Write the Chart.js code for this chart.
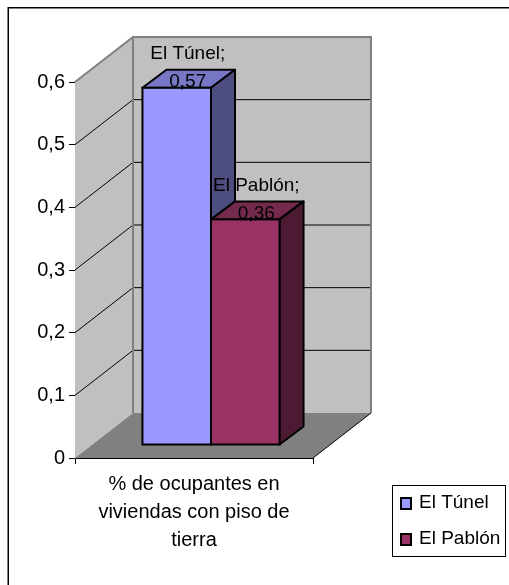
<!DOCTYPE html>
<html>
<head>
<meta charset="utf-8">
<style>
  html, body { margin: 0; padding: 0; background: #fff; }
  #wrap { width: 509px; height: 585px; }
</style>
<script src="https://cdn.jsdelivr.net/npm/chart.js@4/dist/chart.umd.min.js"></script>
</head>
<body>
<div id="wrap"><canvas id="chart"></canvas></div>
<script>
const categories = [['% de ocupantes en', 'viviendas con piso de', 'tierra']];
const seriesNames = ['El Túnel', 'El Pablón'];
const tunelValues = [0.57];
const pablonValues = [0.36];
const yTickLabels = ['0', '0,1', '0,2', '0,3', '0,4', '0,5', '0,6'];

const FAMILY = '"Liberation Sans", Arial, sans-serif';
const LABEL_FONT = '19px ' + FAMILY;

// depth of the fake 3D box and of the bars, in px
const WALL_DX = 58, WALL_DY = 45;
const BAR_DX = 24, BAR_DY = 18;
const BAR_SHIFT_X = 17, BAR_SHIFT_Y = 13;

const colors = [
  { front: '#9999ff', top: '#7777c6', side: '#4d4d80' },
  { front: '#993366', top: '#732a4d', side: '#4d1a33' }
];

// front face of a bar in canvas px, moved inside the box
function barBox(chart, i) {
  const b = chart.getDatasetMeta(i).data[0];
  const half = b.width / 2;
  return {
    l: b.x - half + BAR_SHIFT_X, r: b.x + half + BAR_SHIFT_X,
    t: b.y - BAR_SHIFT_Y, b: b.base - BAR_SHIFT_Y
  };
}

// walls and floor, behind the bars
const wallsPlugin = {
  id: 'walls',
  beforeDatasetsDraw(chart) {
    const { ctx, chartArea: a, scales: { y } } = chart;
    const x0 = a.left, x1 = a.right;
    const yTop = y.getPixelForValue(0.6), yBase = y.getPixelForValue(0);
    ctx.save();

    // side wall
    ctx.fillStyle = '#c0c0c0';
    ctx.beginPath();
    ctx.moveTo(x0, yTop);
    ctx.lineTo(x0 + WALL_DX, yTop - WALL_DY);
    ctx.lineTo(x0 + WALL_DX, yBase - WALL_DY);
    ctx.lineTo(x0, yBase);
    ctx.closePath();
    ctx.fill();

    // back wall
    ctx.fillRect(x0 + WALL_DX, yTop - WALL_DY, x1 - x0, yBase - yTop);

    // gridlines
    ctx.strokeStyle = '#000';
    ctx.lineWidth = 1;
    y.ticks.forEach(t => {
      if (t.value === 0 || t.value > 0.59) return;
      const py = y.getPixelForValue(t.value);
      ctx.beginPath();
      ctx.moveTo(x0, py);
      ctx.lineTo(x0 + WALL_DX, py - WALL_DY);
      ctx.lineTo(x1 + WALL_DX, py - WALL_DY);
      ctx.stroke();
    });

    // wall edges
    ctx.strokeStyle = '#808080';
    ctx.lineWidth = 2;
    ctx.beginPath();
    ctx.moveTo(x0, yTop);
    ctx.lineTo(x0 + WALL_DX, yTop - WALL_DY);
    ctx.lineTo(x1 + WALL_DX, yTop - WALL_DY);
    ctx.lineTo(x1 + WALL_DX, yBase - WALL_DY);
    ctx.moveTo(x0 + WALL_DX, yTop - WALL_DY);
    ctx.lineTo(x0 + WALL_DX, yBase - WALL_DY);
    ctx.stroke();

    // floor
    ctx.fillStyle = '#808080';
    ctx.beginPath();
    ctx.moveTo(x0, yBase);
    ctx.lineTo(x0 + WALL_DX, yBase - WALL_DY);
    ctx.lineTo(x1 + WALL_DX, yBase - WALL_DY);
    ctx.lineTo(x1, yBase);
    ctx.closePath();
    ctx.fill();

    ctx.strokeStyle = '#000';
    ctx.lineWidth = 1;
    ctx.beginPath();
    ctx.moveTo(x1, yBase);
    ctx.lineTo(x1 + WALL_DX, yBase - WALL_DY);
    ctx.stroke();

    // bar tops and sides go behind the fronts
    ctx.lineWidth = 2;
    ctx.lineJoin = 'round';
    chart.data.datasets.forEach((ds, i) => {
      const q = barBox(chart, i);
      ctx.fillStyle = colors[i].top;
      ctx.beginPath();
      ctx.moveTo(q.l, q.t);
      ctx.lineTo(q.l + BAR_DX, q.t - BAR_DY);
      ctx.lineTo(q.r + BAR_DX, q.t - BAR_DY);
      ctx.lineTo(q.r, q.t);
      ctx.closePath();
      ctx.fill();
      ctx.stroke();

      ctx.fillStyle = colors[i].side;
      ctx.beginPath();
      ctx.moveTo(q.r, q.t);
      ctx.lineTo(q.r + BAR_DX, q.t - BAR_DY);
      ctx.lineTo(q.r + BAR_DX, q.b - BAR_DY);
      ctx.lineTo(q.r, q.b);
      ctx.closePath();
      ctx.fill();
      ctx.stroke();
    });
    ctx.restore();

    // the bars sit a bit inside the box
    ctx.save();
    ctx.translate(BAR_SHIFT_X, -BAR_SHIFT_Y);
  },
  afterDatasetsDraw(chart) {
    const { ctx } = chart;
    ctx.restore();

    ctx.save();
    ctx.strokeStyle = '#000';
    ctx.lineWidth = 2;
    ctx.font = LABEL_FONT;
    ctx.textAlign = 'center';
    ctx.textBaseline = 'middle';
    chart.data.datasets.forEach((ds, i) => {
      const q = barBox(chart, i);
      ctx.strokeRect(q.l, q.t, q.r - q.l, q.b - q.t);
    });
    ctx.fillStyle = '#000';
    chart.data.datasets.forEach((ds, i) => {
      const q = barBox(chart, i);
      const cx = (q.l + q.r) / 2 + 11;
      ctx.fillText(ds.label + ';', cx, q.t - 34);
      ctx.fillText(String(ds.data[0]).replace('.', ','), cx, q.t - 6);
    });
    ctx.restore();
  }
};

// outer frame and legend box
const framePlugin = {
  id: 'frame',
  beforeDraw(chart) {
    const { ctx } = chart;
    ctx.save();
    ctx.fillStyle = '#fff';
    ctx.fillRect(0, 0, chart.width, chart.height);
    ctx.strokeStyle = '#000';
    ctx.lineWidth = 1.5;
    ctx.beginPath();
    ctx.moveTo(chart.width, 7.75);
    ctx.lineTo(8.25, 7.75);
    ctx.lineTo(8.25, chart.height);
    ctx.stroke();
    ctx.restore();
  },
  afterDraw(chart) {
    const { ctx } = chart;
    ctx.save();
    ctx.fillStyle = '#fff';
    ctx.strokeStyle = '#000';
    ctx.lineWidth = 1;
    ctx.fillRect(392.5, 485.5, 113, 71);
    ctx.strokeRect(392.5, 485.5, 113, 71);
    ctx.font = LABEL_FONT;
    ctx.textBaseline = 'middle';
    seriesNames.forEach((name, i) => {
      const cy = 503 + i * 36;
      ctx.fillStyle = colors[i].front;
      ctx.lineWidth = 2;
      ctx.fillRect(401, cy - 5, 10, 11);
      ctx.strokeRect(401, cy - 5, 10, 11);
      ctx.fillStyle = '#000';
      ctx.fillText(name, 419, cy);
    });
    ctx.restore();
  }
};

new Chart(document.getElementById('chart'), {
  type: 'bar',
  data: {
    labels: categories,
    datasets: [
      { label: seriesNames[0], data: tunelValues, backgroundColor: colors[0].front },
      { label: seriesNames[1], data: pablonValues, backgroundColor: colors[1].front }
    ]
  },
  options: {
    responsive: true,
    maintainAspectRatio: false,
    animation: false,
    layout: { padding: { left: 0, top: 82, right: 196, bottom: 0 } },
    plugins: { legend: { display: false }, tooltip: { enabled: false } },
    categoryPercentage: 0.576,
    barPercentage: 1,
    scales: {
      x: {
        afterFit: s => { s.height = 127; },
        border: { color: '#000', width: 1 },
        grid: { offset: true, drawOnChartArea: false, color: '#000', tickLength: 6 },
        ticks: { color: '#000', maxRotation: 0, padding: 6, font: { family: FAMILY, size: 20, lineHeight: 1.4 } }
      },
      y: {
        min: 0,
        max: 0.6,
        afterFit: s => { s.width = 75; },
        border: { color: '#6a6a6a', width: 1 },
        grid: { drawOnChartArea: false, color: '#000', tickLength: 6 },
        ticks: {
          stepSize: 0.1,
          color: '#000',
          padding: 4,
          font: { family: FAMILY, size: 20 },
          callback: (v, i) => yTickLabels[i]
        }
      }
    }
  },
  plugins: [wallsPlugin, framePlugin]
});
</script>
</body>
</html>
